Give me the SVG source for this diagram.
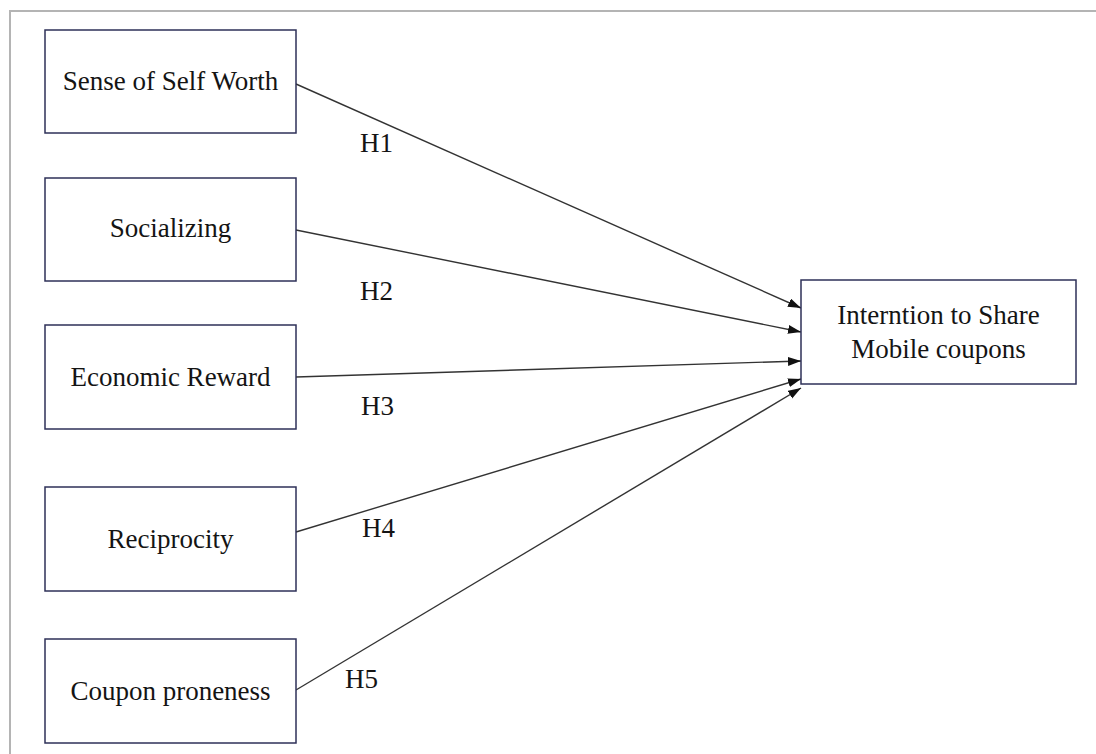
<svg xmlns="http://www.w3.org/2000/svg" width="1096" height="754" viewBox="0 0 1096 754">
<style>
.frame{fill:none;stroke:#b4b4b4;stroke-width:2}
.box{fill:#fff;stroke:#2e3158;stroke-width:1.5}
.t{font-family:"Liberation Serif","Times New Roman",serif;font-size:27px;fill:#141414;text-anchor:middle}
.h{font-family:"Liberation Serif","Times New Roman",serif;font-size:27px;fill:#141414}
.c{stroke:#333;stroke-width:1.4;fill:none;marker-end:url(#ah)}
</style>
<defs>
<marker id="ah" markerUnits="userSpaceOnUse" markerWidth="14" markerHeight="10" refX="13" refY="4.5" orient="auto">
<path d="M0,0 L13,4.5 L0,9 z" fill="#111"/>
</marker>
</defs>
<rect width="1096" height="754" fill="#fff"/>
<rect class="frame" x="10" y="11" width="1100" height="760"/>
<g id="connectors">
<line class="c" x1="296" y1="84" x2="801" y2="308"/>
<line class="c" x1="296" y1="230" x2="801" y2="332"/>
<line class="c" x1="296" y1="377" x2="801" y2="361"/>
<line class="c" x1="296" y1="532" x2="801" y2="379"/>
<line class="c" x1="296" y1="690" x2="801" y2="388"/>
<text class="h" x="360" y="152">H1</text>
<text class="h" x="360" y="300">H2</text>
<text class="h" x="361" y="415">H3</text>
<text class="h" x="362" y="537">H4</text>
<text class="h" x="345" y="688">H5</text>
</g>
<g id="n1"><rect class="box" x="45" y="30" width="251" height="103"/><text class="t" x="170.5" y="90">Sense of Self Worth</text></g>
<g id="n2"><rect class="box" x="45" y="178" width="251" height="103"/><text class="t" x="170.5" y="237">Socializing</text></g>
<g id="n3"><rect class="box" x="45" y="325" width="251" height="104"/><text class="t" x="170.5" y="386">Economic Reward</text></g>
<g id="n4"><rect class="box" x="45" y="487" width="251" height="104"/><text class="t" x="170.5" y="548">Reciprocity</text></g>
<g id="n5"><rect class="box" x="45" y="639" width="251" height="104"/><text class="t" x="170.5" y="700">Coupon proneness</text></g>
<g id="target"><rect class="box" x="801" y="280" width="275" height="104"/><text class="t" x="938.5" y="324">Interntion to Share</text><text class="t" x="938.5" y="358">Mobile coupons</text></g>
</svg>
